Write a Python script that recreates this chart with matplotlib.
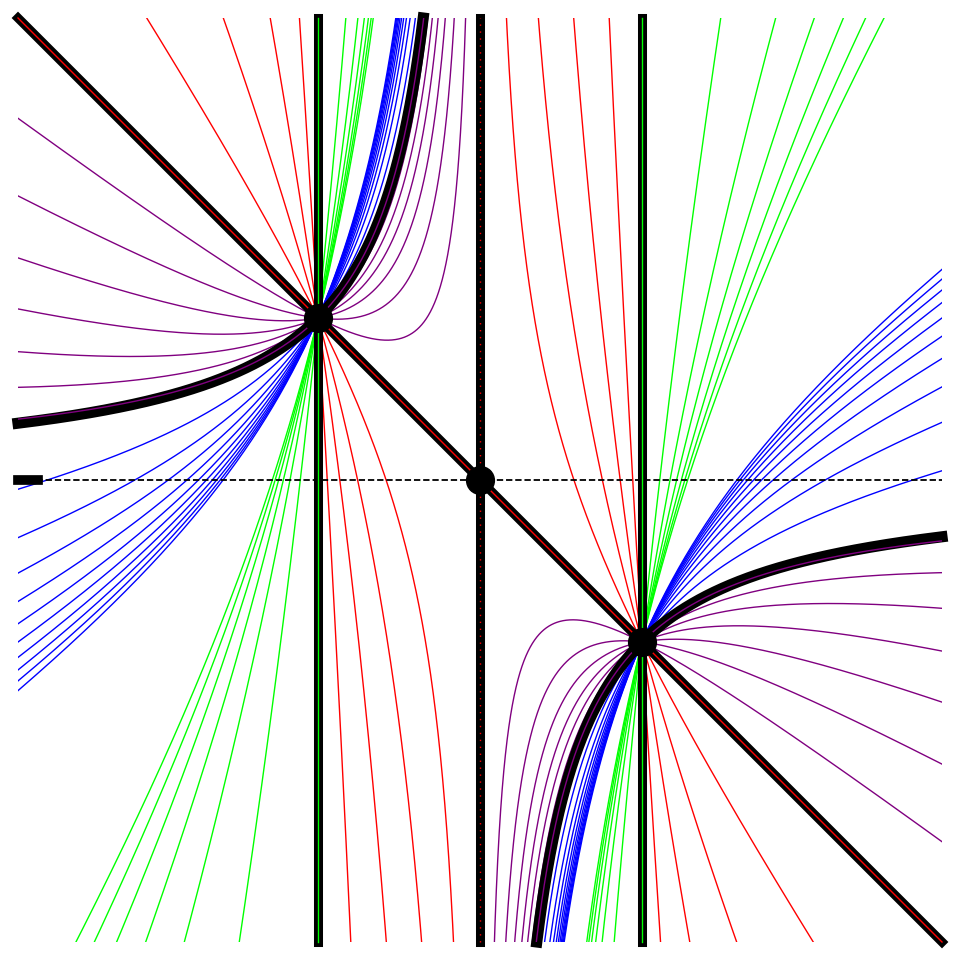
import numpy as np
import matplotlib
matplotlib.use("Agg")
import matplotlib.pyplot as plt

# ---- data: parameter a of each curve  v = -a*u - (1-a)/u  (conics through (-1,1) and (1,-1))
purple_a = [0.0885, 0.1765, 0.282, 0.408, 0.561, 0.7525, 0.01]
blue_a = [-0.163, -0.2825, -0.370, -0.440, -0.495, -0.540, -0.578, -0.609, -0.636, -0.660]
green_a = [-1.554, -1.669, -1.835, -2.113, -2.662, -4.336]
red_a = [1.506, 2.33, 3.98, 9.0]
family_colors = {"purple": purple_a, "blue": blue_a, "lime": green_a, "red": red_a}

node_u = [-1.0, 0.0, 1.0]
node_v = [1.0, 0.0, -1.0]
vertical_u = [-1.0, 0.0, 1.0]
vertical_inner = ["lime", "red", "lime"]
L = 2.852

fig = plt.figure(figsize=(9.6, 9.6), dpi=100)
ax = fig.add_axes([18 / 960, 18 / 960, 924 / 960, 924 / 960])
ax.set_xlim(-L, L)
ax.set_ylim(-L, L)
ax.axis("off")


def curve(a, u):
    return -a * u - (1 - a) / u


uleft = np.linspace(-L, -1e-4, 6000)
uright = np.linspace(1e-4, L, 6000)
for col, alist in family_colors.items():
    for a in alist:
        for uu in (uleft, uright):
            vv = curve(a, uu)
            vv = np.where(np.abs(vv) > 50, np.nan, vv)
            ax.plot(uu, vv, color=col, lw=1.0, zorder=2)

# dashed asymptote
ax.plot([-L, L], [0, 0], color="black", lw=1.3, ls=(0, (3.5, 1.6)), zorder=3)
ax.plot([-L, -2.73], [0, 0], color="black", lw=7, solid_capstyle="projecting",
        clip_on=False, zorder=4)

# thick hyperbola u*v = -1
for s in (-1, 1):
    uu = s * np.linspace(1 / L, L, 800)
    ax.plot(uu, -1 / uu, color="black", lw=8, clip_on=False, zorder=4,
            solid_capstyle="projecting")
for uu in (uleft, uright):
    vv = curve(0.01, uu)
    vv = np.where(np.abs(vv) > 50, np.nan, vv)
    ax.plot(uu, vv, color="purple", lw=1.0, zorder=5)

# diagonal
ax.plot([-L, L], [L, -L], color="black", lw=6.5, clip_on=False, zorder=4)
ax.plot([-L, L], [L, -L], color="red", lw=1.0, clip_on=False, zorder=5)

# vertical lines
for x0, ic in zip(vertical_u, vertical_inner):
    ax.plot([x0, x0], [-L, L], color="black", lw=6.5, clip_on=False, zorder=4)
    ax.plot([x0, x0], [-L, L], color=ic, lw=1.0, clip_on=False, zorder=5,
            ls="-" if ic == "lime" else (0, (1, 4)))

# nodes
ax.plot(node_u, node_v, "o", color="black", ms=20, zorder=6, clip_on=False)

fig.savefig("out.png", dpi=100)
